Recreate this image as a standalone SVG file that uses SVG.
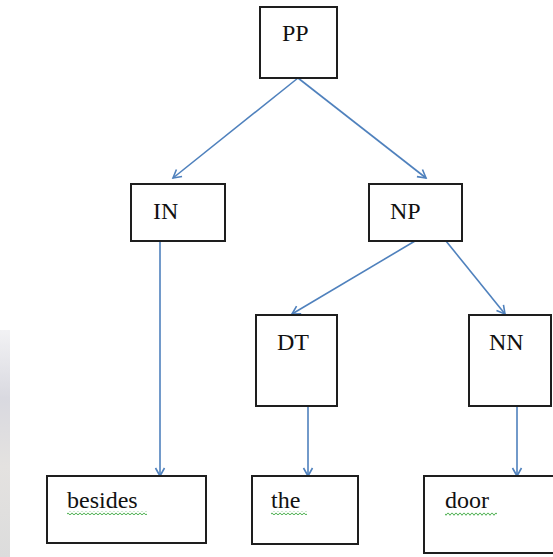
<svg xmlns="http://www.w3.org/2000/svg" width="553" height="557" viewBox="0 0 553 557">
  <style>
    .box { fill: #ffffff; stroke: #1e1e1e; stroke-width: 2; }
    .lbl { font-family: "Liberation Serif", "Times New Roman", serif; font-size: 24px; fill: #111111; }
    .conn { stroke: #4f81bd; stroke-width: 1.6; fill: none; marker-end: url(#arr); }
  </style>
  <defs>
    <marker id="arr" viewBox="-10 -6 12 12" refX="0" refY="0" markerWidth="12" markerHeight="12" markerUnits="userSpaceOnUse" orient="auto">
      <path d="M -8 -4.5 L 0 0 L -8 4.5" fill="none" stroke="#4f81bd" stroke-width="1.6"/>
    </marker>
    <pattern id="sq" x="0" y="0" width="4" height="4" patternUnits="userSpaceOnUse">
      <polyline points="0,0.7 2,3.3 4,0.7" fill="none" stroke="#4caf50" stroke-width="1"/>
    </pattern>
    <linearGradient id="edge" x1="0" y1="0" x2="0" y2="1">
      <stop offset="0" stop-color="#f2f2f4"/>
      <stop offset="0.3" stop-color="#d9d9e0"/>
      <stop offset="0.6" stop-color="#e4e2e0"/>
      <stop offset="1" stop-color="#dcdcdc"/>
    </linearGradient>
  </defs>
  <rect x="0" y="0" width="553" height="557" fill="#ffffff"/>
  <rect x="0" y="330" width="10" height="227" fill="url(#edge)"/>

  <g id="connectors">
    <line class="conn" x1="298" y1="78" x2="173" y2="178"/>
    <line class="conn" x1="298" y1="78" x2="426" y2="178"/>
    <line class="conn" x1="160" y1="241" x2="160" y2="476"/>
    <line class="conn" x1="415" y1="241" x2="292" y2="314"/>
    <line class="conn" x1="446" y1="241" x2="505" y2="314"/>
    <line class="conn" x1="308" y1="406" x2="308" y2="476"/>
    <line class="conn" x1="517" y1="406" x2="517" y2="476"/>
  </g>

  <g id="node-PP">
    <rect class="box" x="260" y="7" width="77" height="71"/>
    <text class="lbl" x="282" y="41">PP</text>
  </g>
  <g id="node-IN">
    <rect class="box" x="131" y="184" width="94" height="57"/>
    <text class="lbl" x="153" y="219">IN</text>
  </g>
  <g id="node-NP">
    <rect class="box" x="369" y="184" width="93" height="57"/>
    <text class="lbl" x="390" y="219">NP</text>
  </g>
  <g id="node-DT">
    <rect class="box" x="256" y="315" width="81" height="91"/>
    <text class="lbl" x="277" y="350">DT</text>
  </g>
  <g id="node-NN">
    <rect class="box" x="469" y="315" width="82" height="91"/>
    <text class="lbl" x="489" y="350">NN</text>
  </g>
  <g id="node-besides">
    <rect class="box" x="47" y="476" width="159" height="67"/>
    <text class="lbl" x="67" y="508">besides</text>
    <rect x="67" y="511" width="80" height="4" fill="url(#sq)"/>
  </g>
  <g id="node-the">
    <rect class="box" x="252" y="476" width="106" height="68"/>
    <text class="lbl" x="271" y="508">the</text>
    <rect x="271" y="511" width="36" height="4" fill="url(#sq)"/>
  </g>
  <g id="node-door">
    <rect class="box" x="424" y="476" width="140" height="77"/>
    <text class="lbl" x="445" y="508">door</text>
    <rect x="445" y="512" width="52" height="4" fill="url(#sq)"/>
  </g>
</svg>
